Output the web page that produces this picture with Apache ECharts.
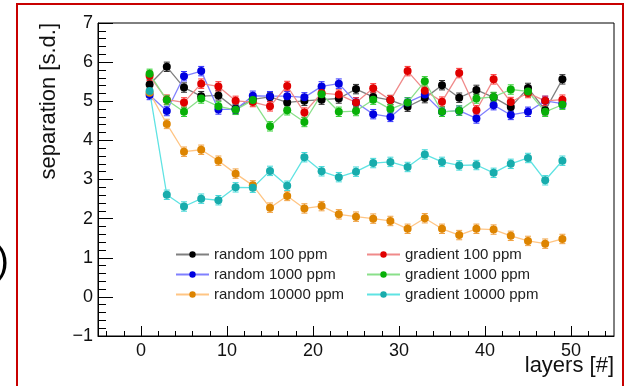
<!DOCTYPE html>
<html>
<head>
<meta charset="utf-8">
<script src="https://cdn.jsdelivr.net/npm/echarts@6/dist/echarts.min.js"></script>
<style>
  html, body { margin: 0; padding: 0; background: #fff; }
  #chart { width: 625px; height: 386px; }
</style>
</head>
<body>
<div id="chart"></div>
<script>
// layer positions (x)
const layers = [1, 3, 5, 7, 9, 11, 13, 15, 17, 19, 21, 23, 25, 27, 29, 31, 33, 35, 37, 39, 41, 43, 45, 47, 49]

// separation values per series
const random100 = [5.43, 5.88, 5.35, 5.13, 5.15, 4.81, 5.05, 5.11, 4.97, 5.01, 5.04, 5.07, 5.31, 5.11, 5.03, 4.86, 5.08, 5.41, 5.09, 5.29, 5.10, 4.85, 5.34, 4.77, 5.56]
const random1000 = [5.16, 4.75, 5.64, 5.77, 4.79, 4.79, 5.14, 5.13, 5.13, 5.10, 5.38, 5.45, 4.97, 4.67, 4.60, 4.97, 5.17, 4.73, 4.76, 4.56, 4.90, 4.65, 4.73, 5.01, 4.94]
const random10000 = [5.22, 4.42, 3.71, 3.76, 3.48, 3.15, 2.85, 2.28, 2.58, 2.26, 2.32, 2.11, 2.05, 2.00, 1.94, 1.74, 2.01, 1.74, 1.58, 1.74, 1.72, 1.56, 1.43, 1.36, 1.48]
const gradient100 = [5.65, 5.04, 4.97, 5.45, 5.38, 5.01, 4.98, 4.87, 5.39, 4.71, 5.21, 5.17, 4.97, 5.33, 5.03, 5.77, 5.27, 4.99, 5.72, 4.77, 5.56, 4.98, 5.21, 5.01, 5.04]
const gradient1000 = [5.70, 5.03, 4.73, 5.07, 4.87, 4.78, 5.03, 4.36, 4.77, 4.47, 5.18, 4.73, 4.75, 5.04, 4.80, 4.97, 5.51, 4.73, 4.76, 5.07, 5.11, 5.30, 5.25, 4.73, 4.91]
const gradient10000 = [5.26, 2.61, 2.31, 2.51, 2.47, 2.80, 2.79, 3.22, 2.84, 3.57, 3.21, 3.06, 3.20, 3.42, 3.45, 3.32, 3.64, 3.45, 3.36, 3.37, 3.17, 3.40, 3.55, 2.98, 3.48]

// half-length of the error bars
const errHalf = 0.12

const seriesNames = ['random 100 ppm', 'random 1000 ppm', 'random 10000 ppm', 'gradient 100 ppm', 'gradient 1000 ppm', 'gradient 10000 ppm']
const seriesValues = [random100, random1000, random10000, gradient100, gradient1000, gradient10000]
const markerColors = ['#000000', '#0000e0', '#dd8400', '#e00000', '#08b008', '#18acac']
const lineColors = ['#808080', '#8080ff', '#ffc584', '#f08a8a', '#8ae08a', '#5fe3e3']
const barColors = ['#303030', '#3030ff', '#f0a040', '#ff3030', '#30d030', '#40d8d8']

const xMajorTicks = [0, 10, 20, 30, 40, 50]
const xMinorTicks = [-4, -2, 2, 4, 6, 8, 12, 14, 16, 18, 22, 24, 26, 28, 32, 34, 36, 38, 42, 44, 46, 48, 52, 54]

const font = 'Liberation Sans'
const dom = document.getElementById('chart')
const chart = echarts.init(dom, null, { renderer: 'canvas' })

const errorSeries = (idx) => ({
  type: 'custom',
  name: 'err' + idx,
  silent: true,
  z: 1,
  data: layers.map((x, i) => [x, seriesValues[idx][i] - errHalf, seriesValues[idx][i] + errHalf]),
  encode: { x: 0, y: [1, 2] },
  renderItem: (params, api) => {
    const lo = api.coord([api.value(0), api.value(1)])
    const hi = api.coord([api.value(0), api.value(2)])
    const w = 3
    const style = { stroke: barColors[idx], lineWidth: 1 }
    return {
      type: 'group',
      children: [
        { type: 'line', shape: { x1: lo[0], y1: lo[1], x2: hi[0], y2: hi[1] }, style },
        { type: 'line', shape: { x1: lo[0] - w, y1: lo[1], x2: lo[0] + w, y2: lo[1] }, style },
        { type: 'line', shape: { x1: hi[0] - w, y1: hi[1], x2: hi[0] + w, y2: hi[1] }, style }
      ]
    }
  }
})

const lineSeries = (idx) => ({
  type: 'line',
  name: seriesNames[idx],
  data: layers.map((x, i) => [x, seriesValues[idx][i]]),
  symbol: 'circle',
  symbolSize: 8,
  z: 2,
  itemStyle: { color: markerColors[idx] },
  lineStyle: { color: lineColors[idx], width: 1.3 }
})

const series = []
seriesNames.forEach((n, i) => series.push(errorSeries(i)))
seriesNames.forEach((n, i) => series.push(lineSeries(i)))

const legendBase = {
  orient: 'vertical',
  top: 242,
  itemWidth: 33,
  itemHeight: 8,
  itemGap: 5,
  textStyle: { fontFamily: font, fontSize: 15, color: '#222', lineHeight: 15 },
  selectedMode: false
}

const option = {
  animation: false,
  backgroundColor: '#fff',
  grid: { left: 98, right: 11, top: 23, bottom: 50, show: true, borderColor: '#000', borderWidth: 1 },
  legend: [
    Object.assign({}, legendBase, { left: 170, data: seriesNames.slice(0, 3) }),
    Object.assign({}, legendBase, { left: 361, data: seriesNames.slice(3) })
  ],
  xAxis: [
    {
      type: 'value', min: -5, max: 55,
      axisLine: { onZero: false, lineStyle: { color: '#000', width: 1 } },
      axisTick: { inside: true, length: 10, customValues: xMajorTicks, lineStyle: { color: '#000' } },
      axisLabel: { customValues: xMajorTicks, fontFamily: font, fontSize: 18, color: '#111', margin: 6 },
      splitLine: { show: false }
    },
    {
      type: 'value', min: -5, max: 55, position: 'bottom',
      axisLine: { show: false, onZero: false },
      axisTick: { inside: true, length: 5, customValues: xMinorTicks, lineStyle: { color: '#000' } },
      axisLabel: { show: false },
      splitLine: { show: false }
    }
  ],
  yAxis: {
    type: 'value', min: -1, max: 7, interval: 1,
    axisLine: { show: true, onZero: false, lineStyle: { color: '#000', width: 1 } },
    axisTick: { show: true, inside: true, length: 15, lineStyle: { color: '#000' } },
    minorTick: { show: true, splitNumber: 5, length: 8, lineStyle: { color: '#000' } },
    axisLabel: {
      fontFamily: font, fontSize: 18, color: '#111', margin: 5,
      formatter: (v) => (v < 0 ? '\u2212' + Math.abs(v) : String(v))
    },
    splitLine: { show: false }
  },
  graphic: [
    { type: 'rect', shape: { x: 17, y: 4, width: 606, height: 400 }, style: { fill: 'none', stroke: '#c80000', lineWidth: 2 }, z: 100 },
    { type: 'text', x: 9, y: 263, style: { text: ')', font: '38px "Liberation Sans"', fill: '#000', align: 'right', verticalAlign: 'middle' } },
    { type: 'text', x: 49, y: 23, rotation: Math.PI / 2, style: { text: 'separation [s.d.]', font: '22px "Liberation Sans"', fill: '#111', align: 'right', verticalAlign: 'middle' } },
    { type: 'text', x: 614, y: 366, style: { text: 'layers [#]', font: '22px "Liberation Sans"', fill: '#111', align: 'right', verticalAlign: 'middle' } }
  ],
  series
}

chart.setOption(option)
</script>
</body>
</html>
